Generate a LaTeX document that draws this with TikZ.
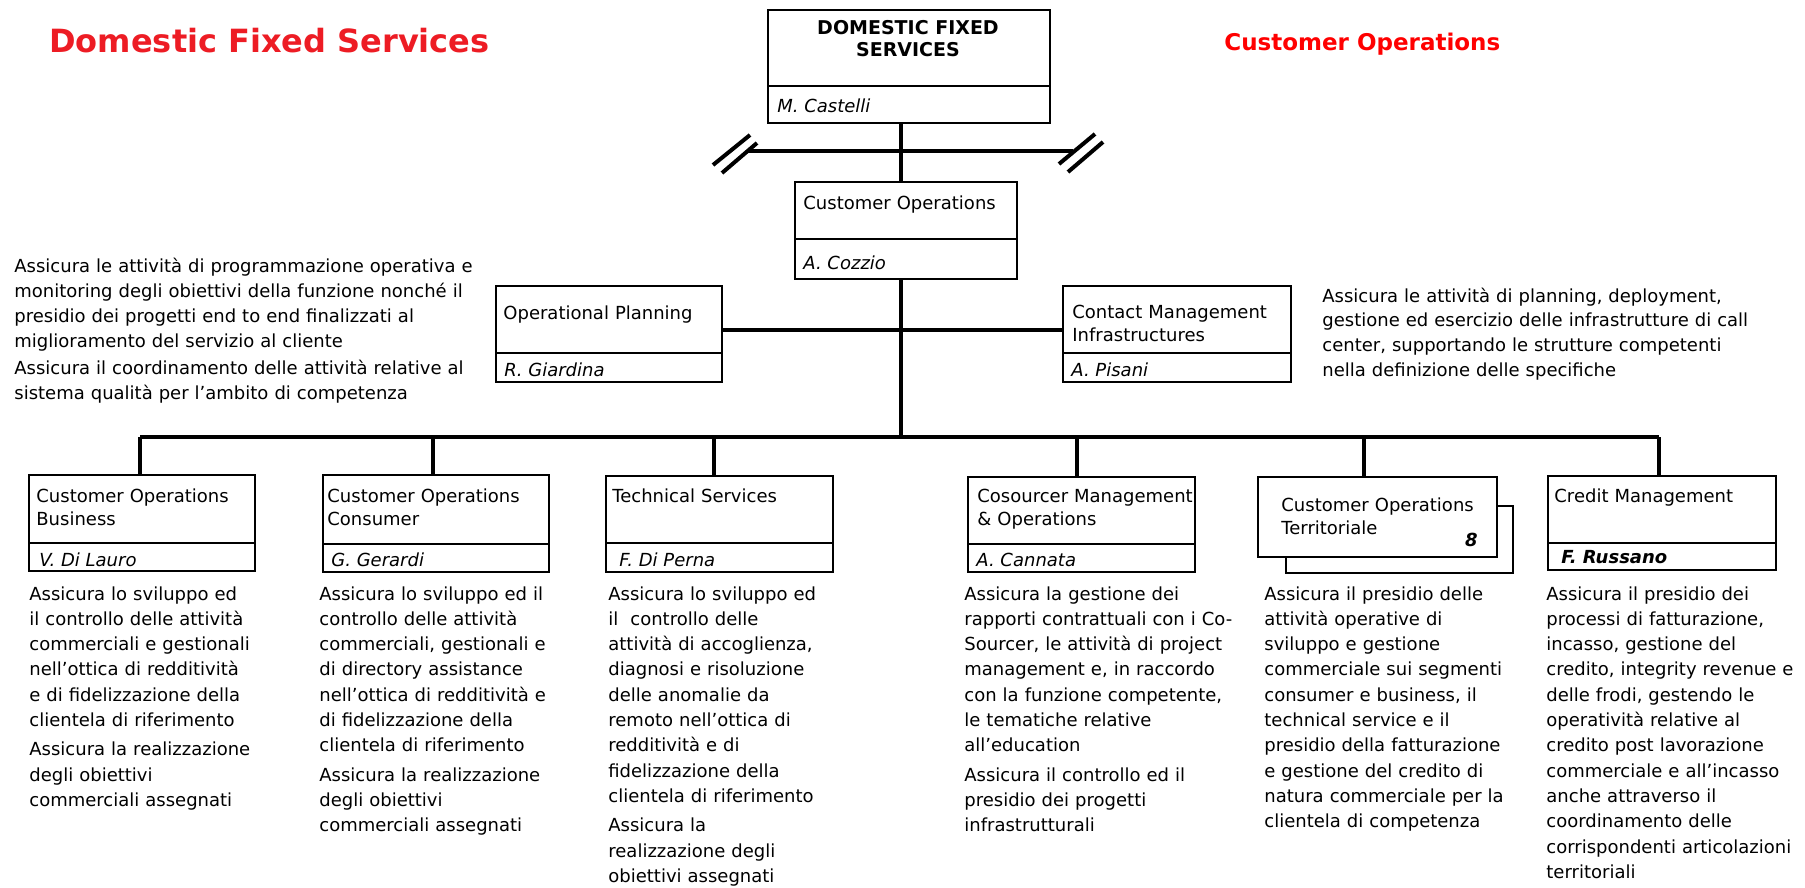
\documentclass[tikz,border=0pt]{standalone}
\usepackage{fontspec}
\setmainfont{DejaVu Sans}[ItalicFont={DejaVu Sans Oblique},BoldFont={DejaVu Sans Bold},BoldItalicFont={DejaVu Sans Bold Oblique}]
\definecolor{titlered}{RGB}{237,28,36}
\tikzset{
 boxst/.style={draw, line width=1pt, fill=white, inner sep=0pt, anchor=north west},
 divst/.style={line width=1pt},
 conn/.style={line width=2pt},
 slashst/.style={line width=2pt},
 btext/.style={anchor=base west, inner sep=0pt, font=\fontsize{9}{11.5}\selectfont, align=left, text width=120pt},
 bname/.style={anchor=base west, inner sep=0pt, font=\fontsize{9}{11}\selectfont\itshape},
 desc/.style={anchor=base west, inner sep=0pt, font=\fontsize{9}{12.65}\selectfont, align=left, text width=150pt},
}
\newcommand\obox[5]{\node[boxst, minimum width={(#4-#2)*0.5pt}, minimum height={(#5-#3)*0.5pt}] (#1) at (#2,#3) {};}
\begin{document}
\begin{tikzpicture}[x=0.5pt,y=-0.5pt]
\useasboundingbox (0,0) rectangle (1805,888);
% titles
\node[anchor=base west, inner sep=0pt, font=\fontsize{16}{18}\selectfont\bfseries, text=titlered] (title) at (49,53) {Domestic Fixed Services};
\node[anchor=base west, inner sep=0pt, font=\fontsize{11.5}{13}\selectfont\bfseries, text=red] (title2) at (1224,51) {Customer Operations};
% coordinates
\coordinate (vx) at (901,0);
\coordinate (sL) at (747,151);
\coordinate (sR) at (1073,151);
\coordinate (hy) at (0,330);
\coordinate (busL) at (140,437);
\coordinate (busR) at (1659,437);
\coordinate (d2) at (433,437);
\coordinate (d3) at (714,437);
\coordinate (d4) at (1077,437);
\coordinate (d5) at (1364,437);
% top box
\obox{dfs}{767}{9}{1049}{122}
\draw[divst] (767,86) -- (1049,86);
\node[anchor=base, inner sep=0pt, font=\fontsize{9.5}{11}\selectfont\bfseries] (dfst1) at (908,35) {DOMESTIC FIXED};
\node[anchor=base, inner sep=0pt, font=\fontsize{9.5}{11}\selectfont\bfseries] (dfst2) at (908,57) {SERVICES};
\node[bname] (dfsn) at (777,113) {M. Castelli};
% customer operations
\obox{co}{794}{181}{1016}{278}
\draw[divst] (794,239) -- (1016,239);
\node[btext] (cot) at (803,209) {Customer Operations};
\node[bname] (con) at (803,269) {A. Cozzio};
% operational planning
\obox{op}{495}{285}{721}{381}
\draw[divst] (495,353) -- (721,353);
\node[btext] (opt) at (503,319) {Operational Planning};
\node[bname] (opn) at (504,376) {R. Giardina};
% contact management
\obox{cm}{1062}{285}{1290}{381}
\draw[divst] (1062,353) -- (1290,353);
\node[btext] (cmt) at (1072,318) {Contact Management\\Infrastructures};
\node[bname] (cmn) at (1071,376) {A. Pisani};
% bottom boxes
\obox{b1}{28}{474}{254}{570}
\draw[divst] (28,543) -- (254,543);
\node[btext] (b1t) at (36,502) {Customer Operations\\Business};
\node[bname] (b1n) at (39,566) {V. Di Lauro};
\obox{b2}{322}{474}{548}{571}
\draw[divst] (322,544) -- (548,544);
\node[btext] (b2t) at (327,502) {Customer Operations\\Consumer};
\node[bname] (b2n) at (331,566) {G. Gerardi};
\obox{b3}{605}{475}{832}{571}
\draw[divst] (605,543) -- (834,543);
\node[btext] (b3t) at (612,502) {Technical Services};
\node[bname] (b3n) at (619,566) {F. Di Perna};
\obox{b4}{967}{476}{1194}{571}
\draw[divst] (967,544) -- (1194,544);
\node[btext] (b4t) at (977,502) {Cosourcer Management\\\& Operations};
\node[bname] (b4n) at (976,566) {A. Cannata};
\obox{b5s}{1285}{505}{1512}{572}
\obox{b5}{1257}{476}{1496}{556}
\node[btext] (b5t) at (1281,511) {Customer Operations\\Territoriale};
\node[anchor=base east, inner sep=0pt, font=\fontsize{9}{11}\selectfont\bfseries\itshape] (b5n) at (1478,546) {8};
\obox{b6}{1547}{475}{1775}{569}
\draw[divst] (1547,543) -- (1777,543);
\node[btext] (b6t) at (1554,502) {Credit Management};
\node[anchor=base west, inner sep=0pt, font=\fontsize{9}{11}\selectfont\bfseries\itshape] (b6n) at (1561,563) {F. Russano};
% connectors
\draw[conn] (dfs.south -| vx) -- (co.north -| vx);
\draw[conn] (sL) -- (sR);
\draw[slashst] (713,165) -- (750,135);
\draw[slashst] (722,173) -- (757,143);
\draw[slashst] (1059,164) -- (1095,134);
\draw[slashst] (1068,172) -- (1103,142);
\draw[conn] (co.south -| vx) -- (vx |- busL);
\draw[conn] (op.east |- hy) -- (cm.west |- hy);
\draw[conn] (busL) -- (busR);
\draw[conn] (busL) -- (busL |- b1.north);
\draw[conn] (d2) -- (d2 |- b2.north);
\draw[conn] (d3) -- (d3 |- b3.north);
\draw[conn] (d4) -- (d4 |- b4.north);
\draw[conn] (d5) -- (d5 |- b5.north);
\draw[conn] (busR) -- (busR |- b6.north);
% side texts
\node[desc, text width=250pt, font=\fontsize{9}{12.5}\selectfont] (lt) at (14,272) {Assicura le attività di programmazione operativa e\\monitoring degli obiettivi della funzione nonché il\\presidio dei progetti end to end finalizzati al\\miglioramento del servizio al cliente\\[1pt]Assicura il coordinamento delle attività relative al\\sistema qualità per l’ambito di competenza};
\node[desc, text width=250pt, font=\fontsize{9}{12.4}\selectfont] (rt) at (1322,302) {Assicura le attività di planning, deployment,\\gestione ed esercizio delle infrastrutture di call\\center, supportando le strutture competenti\\nella definizione delle specifiche};
% descriptions
\node[desc] (d1t) at (29,600) {Assicura lo sviluppo ed\\il controllo delle attività\\commerciali e gestionali\\nell’ottica di redditività\\e di fidelizzazione della\\clientela di riferimento\\[2pt]Assicura la realizzazione\\degli obiettivi\\commerciali assegnati};
\node[desc] (d2t) at (319,600) {Assicura lo sviluppo ed il\\controllo delle attività\\commerciali, gestionali e\\di directory assistance\\nell’ottica di redditività e\\di fidelizzazione della\\clientela di riferimento\\[2pt]Assicura la realizzazione\\degli obiettivi\\commerciali assegnati};
\node[desc] (d3t) at (608,600) {Assicura lo sviluppo ed\\il\ \ controllo delle\\attività di accoglienza,\\diagnosi e risoluzione\\delle anomalie da\\remoto nell’ottica di\\redditività e di\\fidelizzazione della\\clientela di riferimento\\[2pt]Assicura la\\realizzazione degli\\obiettivi assegnati};
\node[desc] (d4t) at (964,600) {Assicura la gestione dei\\rapporti contrattuali con i Co-\\Sourcer, le attività di project\\management e, in raccordo\\con la funzione competente,\\le tematiche relative\\all’education\\[2pt]Assicura il controllo ed il\\presidio dei progetti\\infrastrutturali};
\node[desc] (d5t) at (1264,600) {Assicura il presidio delle\\attività operative di\\sviluppo e gestione\\commerciale sui segmenti\\consumer e business, il\\technical service e il\\presidio della fatturazione\\e gestione del credito di\\natura commerciale per la\\clientela di competenza};
\node[desc] (d6t) at (1546,600) {Assicura il presidio dei\\processi di fatturazione,\\incasso, gestione del\\credito, integrity revenue e\\delle frodi, gestendo le\\operatività relative al\\credito post lavorazione\\commerciale e all’incasso\\anche attraverso il\\coordinamento delle\\corrispondenti articolazioni\\territoriali};
\end{tikzpicture}
\end{document}
